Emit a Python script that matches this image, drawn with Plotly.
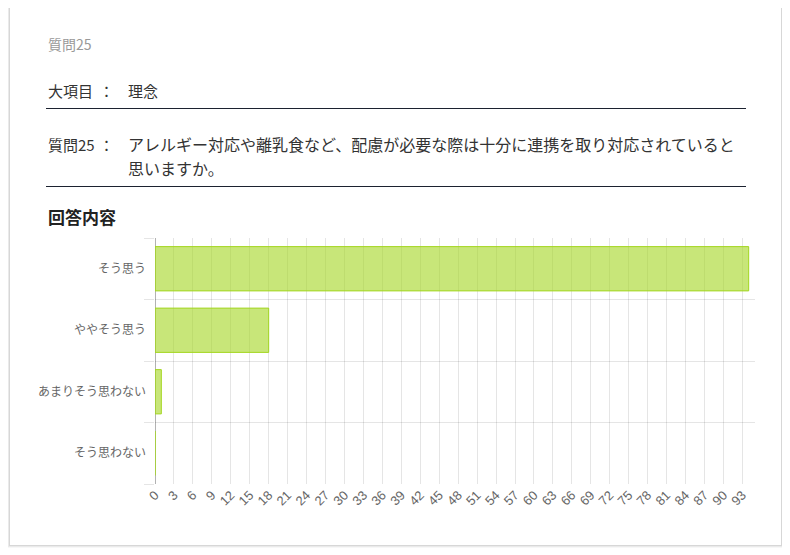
import plotly.graph_objects as go

# answers and counts
categories = ['そう思う', 'ややそう思う', 'あまりそう思わない', 'そう思わない']
counts = [94, 18, 1, 0]

header = '質問25'
section_label = '大項目'
section_value = '理念'
question_label = '質問25'
question_lines = ['アレルギー対応や離乳食など、配慮が必要な際は十分に連携を取り対応されていると',
                  '思いますか。']
answer_title = '回答内容'

# the page body has an 8px margin, so work in page coords and shift
OFF = 8
W, H = 790 - OFF, 555 - OFF
L, R, T, B = 155 - OFF, 35, 238 - OFF, 555 - 484
PW, PH = W - L - R, H - T - B

JP = 'Noto Sans CJK JP'


def px(x):
    return (x - OFF - L) / PW


def py(y):
    return (H - B - (y - OFF)) / PH


fig = go.Figure()
fig.add_trace(go.Bar(
    x=counts,
    y=list(range(len(categories))),
    orientation='h',
    width=0.72,
    marker=dict(color='rgba(163,214,31,0.6)',
                line=dict(color='rgb(163,214,31)', width=1)),
    hoverinfo='x',
))

shapes = []
# card shadow + card
for off, alpha in [(3, 0.03), (2, 0.05), (1, 0.08)]:
    shapes.append(dict(type='rect', xref='paper', yref='paper', layer='below',
                       x0=px(10 - off), x1=px(781 + off), y0=py(8 - off + 1), y1=py(545 + off),
                       line=dict(width=0), fillcolor=f'rgba(0,0,0,{alpha})'))
shapes.append(dict(type='rect', xref='paper', yref='paper', layer='below',
                   x0=px(10), x1=px(781), y0=py(8), y1=py(545),
                   line=dict(width=0), fillcolor='white'))
# separator lines
for yy in (108.5, 186.5):
    shapes.append(dict(type='line', xref='paper', yref='paper',
                       x0=px(46), x1=px(746), y0=py(yy), y1=py(yy),
                       line=dict(color='#1c2230', width=1)))

ann = []


def text(x, y, s, size=15, color='#333333', bold=False):
    ann.append(dict(xref='paper', yref='paper', x=px(x), y=py(y), text=f'<b>{s}</b>' if bold else s,
                    showarrow=False, xanchor='left', yanchor='middle',
                    font=dict(family=JP, size=size, color=color)))


text(46, 44, header, size=14, color='#999999')
text(46, 91, section_label, size=15)
text(97, 91, '：', size=15)
text(126, 91, section_value, size=15)
text(46, 144, question_label, size=15)
text(97, 144, '：', size=15)
for i, line in enumerate(question_lines):
    text(126, 144 + 24 * i, line, size=16)
text(46, 217, answer_title, size=17, color='#222222', bold=True)

fig.update_layout(
    width=W, height=H,
    margin=dict(l=L, r=R, t=T, b=B),
    paper_bgcolor='white',
    plot_bgcolor='rgba(0,0,0,0)',
    showlegend=False,
    shapes=shapes,
    annotations=ann,
    xaxis=dict(
        range=[0, 95],
        tick0=0, dtick=3,
        tickangle=-45,
        tickfont=dict(family='Liberation Sans, Arial', size=13, color='#666666'),
        showgrid=True, gridcolor='rgba(0,0,0,0.1)', gridwidth=1,
        zeroline=True, zerolinecolor='rgba(0,0,0,0.3)', zerolinewidth=1,
        ticks='', fixedrange=True,
    ),
    yaxis=dict(
        range=[len(categories) - 0.5, -0.5],
        tickvals=list(range(len(categories))),
        ticktext=categories,
        tickfont=dict(family=JP, size=12, color='#666666'),
        showgrid=False, zeroline=False,
        ticks='', ticklabelstandoff=8,
        minor=dict(tick0=0.5, dtick=1, showgrid=True, gridcolor='rgba(0,0,0,0.1)',
                   ticks='outside', ticklen=10, tickcolor='rgba(0,0,0,0.1)'),
        fixedrange=True,
    ),
)

fig.write_html('out.html')
